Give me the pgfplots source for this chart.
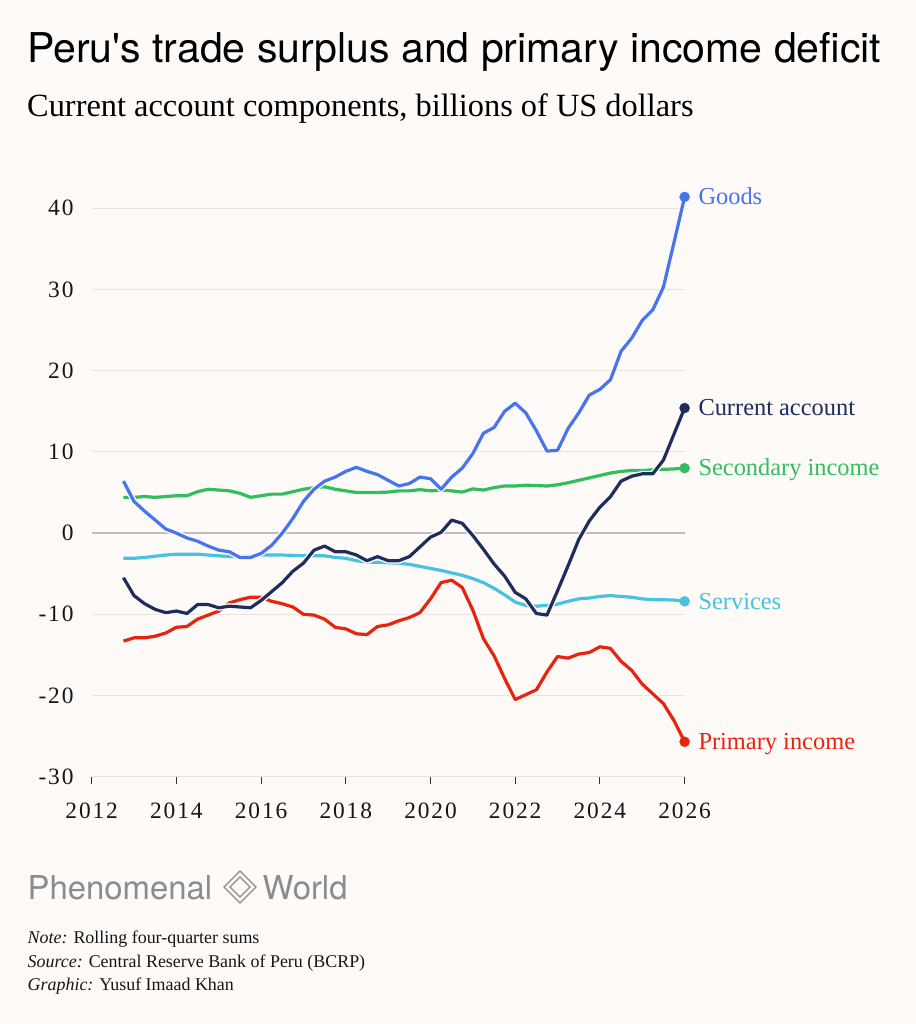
\documentclass[border=0pt]{standalone}
\usepackage{pgfplots}
\usepackage{pgfplotstable}
\pgfplotsset{compat=1.18}
\usepackage{fontspec}
\setmainfont{Liberation Serif}
\newfontfamily\heros{TeX Gyre Heros}
\newfontfamily\tickfont[LetterSpace=8]{Liberation Serif}
\definecolor{bg}{RGB}{253,250,248}
\definecolor{gridc}{RGB}{230,227,225}
\definecolor{zeroc}{RGB}{190,190,190}
\definecolor{tickc}{RGB}{50,50,50}
\definecolor{textc}{RGB}{22,22,22}
\definecolor{logoc}{RGB}{140,140,140}
\definecolor{goods}{RGB}{72,116,238}
\definecolor{ca}{RGB}{30,44,94}
\definecolor{sec}{RGB}{50,190,95}
\definecolor{serv}{RGB}{72,194,223}
\definecolor{prim}{RGB}{231,36,14}

\pgfplotstableread{
t goods ca sec serv prim
2012.75 6.4 -5.5 4.4 -3.1 -13.3
2013.00 3.9 -7.7 4.4 -3.1 -12.9
2013.25 2.7 -8.7 4.5 -3.0 -12.9
2013.50 1.6 -9.4 4.4 -2.85 -12.7
2013.75 0.5 -9.8 4.5 -2.7 -12.3
2014.00 0.0 -9.6 4.6 -2.6 -11.6
2014.25 -0.6 -9.9 4.6 -2.6 -11.5
2014.50 -1.0 -8.8 5.1 -2.6 -10.6
2014.75 -1.6 -8.8 5.4 -2.7 -10.1
2015.00 -2.1 -9.2 5.3 -2.8 -9.6
2015.25 -2.3 -9.0 5.2 -2.9 -8.6
2015.50 -3.0 -9.1 4.9 -2.9 -8.2
2015.75 -3.0 -9.2 4.4 -2.8 -7.9
2016.00 -2.5 -8.3 4.6 -2.7 -7.9
2016.25 -1.5 -7.2 4.8 -2.7 -8.4
2016.50 0.0 -6.1 4.8 -2.7 -8.7
2016.75 1.8 -4.7 5.1 -2.75 -9.1
2017.00 3.9 -3.7 5.4 -2.8 -10.0
2017.25 5.4 -2.1 5.6 -2.8 -10.1
2017.50 6.4 -1.6 5.7 -2.8 -10.6
2017.75 6.9 -2.3 5.4 -3.0 -11.6
2018.00 7.6 -2.3 5.2 -3.1 -11.8
2018.25 8.1 -2.7 5.0 -3.4 -12.4
2018.50 7.6 -3.4 5.0 -3.55 -12.5
2018.75 7.2 -2.9 5.0 -3.6 -11.5
2019.00 6.5 -3.4 5.05 -3.65 -11.3
2019.25 5.8 -3.4 5.2 -3.7 -10.8
2019.50 6.1 -2.9 5.2 -3.85 -10.4
2019.75 6.9 -1.7 5.35 -4.1 -9.8
2020.00 6.7 -0.5 5.2 -4.35 -8.1
2020.25 5.4 0.1 5.3 -4.6 -6.1
2020.50 6.9 1.6 5.2 -4.9 -5.8
2020.75 8.0 1.2 5.05 -5.2 -6.7
2021.00 9.8 -0.3 5.45 -5.6 -9.5
2021.25 12.3 -2.0 5.3 -6.1 -13.0
2021.50 13.0 -3.8 5.6 -6.8 -15.1
2021.75 15.0 -5.3 5.8 -7.6 -17.9
2022.00 16.0 -7.3 5.8 -8.5 -20.5
2022.25 14.8 -8.1 5.9 -8.9 -19.9
2022.50 12.6 -9.9 5.85 -9.0 -19.3
2022.75 10.1 -10.1 5.8 -8.9 -17.1
2023.00 10.2 -7.1 5.95 -8.75 -15.2
2023.25 12.9 -4.0 6.2 -8.4 -15.4
2023.50 14.8 -0.8 6.5 -8.1 -14.9
2023.75 17.0 1.5 6.8 -8.0 -14.7
2024.00 17.7 3.2 7.1 -7.8 -14.0
2024.25 18.9 4.5 7.4 -7.7 -14.2
2024.50 22.4 6.4 7.6 -7.8 -15.8
2024.75 24.0 7.0 7.7 -7.9 -16.9
2025.00 26.2 7.3 7.7 -8.1 -18.6
2025.25 27.5 7.3 7.8 -8.2 -19.8
2025.50 30.3 9.0 7.85 -8.2 -21.0
2025.75 35.8 12.2 7.9 -8.25 -23.1
2026.00 41.4 15.4 8.0 -8.4 -25.7
}\datatable

\begin{document}
\begin{tikzpicture}[x=1bp,y=1bp]
\fill[bg] (0,0) rectangle (916,1024);
% titles
\node[anchor=base west, inner sep=0pt, text=black, font=\heros\fontsize{41.2}{41.2}\selectfont] at (27,961.5) {Peru's trade surplus and primary income deficit};
\node[anchor=base west, inner sep=0pt, text=black, font=\fontsize{32.5}{32.5}\selectfont] at (27,907) {Current account components, billions of US dollars};

\begin{axis}[
  at={(91.7bp,247.3bp)}, anchor=south west,
  scale only axis, width=592.9bp, height=568.4bp,
  xmin=2012, xmax=2026, ymin=-30, ymax=40,
  clip=false,
  axis line style={draw=none},
  xtick={2012,2014,2016,2018,2020,2022,2024,2026},
  xticklabels={2012,2014,2016,2018,2020,2022,2024,2026},
  ytick={-30,-20,-10,0,10,20,30,40},
  yticklabels={-30,-20,-10,0,10,20,30,40},
  ymajorgrids, grid style={color=gridc, line width=1bp},
  xtick pos=left, ytick pos=left,
  ytick style={draw=none},
  xtick style={draw=tickc, line width=1bp},
  tick align=outside, major tick length=7bp,
  xticklabel style={font=\tickfont\fontsize{23.5}{23.5}\selectfont, text=textc, anchor=base, inner sep=0pt, yshift=-35bp},
  yticklabel style={font=\tickfont\fontsize{23.5}{23.5}\selectfont, text=textc, anchor=east, inner sep=0pt, xshift=-11bp},
]
\draw[zeroc, line width=1.3bp] (axis cs:2012,0) -- (axis cs:2026,0);
\addplot[serv, line width=3.2bp, line join=round, preaction={draw=bg, line width=6bp}] table[x=t, y=serv] {\datatable};
\addplot[sec, line width=3.2bp, line join=round, preaction={draw=bg, line width=6bp}] table[x=t, y=sec] {\datatable};
\addplot[prim, line width=3.2bp, line join=round, preaction={draw=bg, line width=6bp}] table[x=t, y=prim] {\datatable};
\addplot[ca, line width=3.2bp, line join=round, preaction={draw=bg, line width=6bp}] table[x=t, y=ca] {\datatable};
\addplot[goods, line width=3.2bp, line join=round, preaction={draw=bg, line width=6bp}] table[x=t, y=goods] {\datatable};

\addplot[only marks, mark=*, mark size=5bp, goods] coordinates {(2026,41.4)};
\addplot[only marks, mark=*, mark size=5bp, ca] coordinates {(2026,15.4)};
\addplot[only marks, mark=*, mark size=5bp, sec] coordinates {(2026,8.0)};
\addplot[only marks, mark=*, mark size=5bp, serv] coordinates {(2026,-8.4)};
\addplot[only marks, mark=*, mark size=5bp, prim] coordinates {(2026,-25.7)};

\node[anchor=base west, inner sep=0pt, text=goods, font=\fontsize{24.5}{24.5}\selectfont] at ([shift={(13.7bp,-7.8bp)}]axis cs:2026,41.4) {Goods};
\node[anchor=base west, inner sep=0pt, text=ca, font=\fontsize{24.5}{24.5}\selectfont] at ([shift={(13.7bp,-7.8bp)}]axis cs:2026,15.4) {Current account};
\node[anchor=base west, inner sep=0pt, text=sec, font=\fontsize{24.5}{24.5}\selectfont] at ([shift={(13.7bp,-7.8bp)}]axis cs:2026,8.0) {Secondary income};
\node[anchor=base west, inner sep=0pt, text=serv, font=\fontsize{24.5}{24.5}\selectfont] at ([shift={(13.7bp,-7.8bp)}]axis cs:2026,-8.4) {Services};
\node[anchor=base west, inner sep=0pt, text=prim, font=\fontsize{24.5}{24.5}\selectfont] at ([shift={(13.7bp,-7.8bp)}]axis cs:2026,-25.7) {Primary income};
\end{axis}

% logo
\node[anchor=base west, inner sep=0pt, text=logoc, font=\heros\fontsize{33}{33}\selectfont] at (27.5,124.7) {Phenomenal};
\node[anchor=base west, inner sep=0pt, text=logoc, font=\heros\fontsize{33}{33}\selectfont] at (262.5,124.7) {World};
\draw[logoc, line width=1.4bp] (240,153) -- (256,137) -- (240,121) -- (224,137) -- cycle;
\draw[logoc, line width=1.4bp] (240,147) -- (250,137) -- (240,127) -- (230,137) -- cycle;

% notes
\node[anchor=base west, inner sep=0pt, text=textc, font=\fontsize{18}{18}\selectfont] at (27.5,80.7) {\textit{Note:} Rolling four-quarter sums};
\node[anchor=base west, inner sep=0pt, text=textc, font=\fontsize{18}{18}\selectfont] at (27.5,56.7) {\textit{Source:} Central Reserve Bank of Peru (BCRP)};
\node[anchor=base west, inner sep=0pt, text=textc, font=\fontsize{18}{18}\selectfont] at (27.5,33.5) {\textit{Graphic:} Yusuf Imaad Khan};
\end{tikzpicture}
\end{document}
